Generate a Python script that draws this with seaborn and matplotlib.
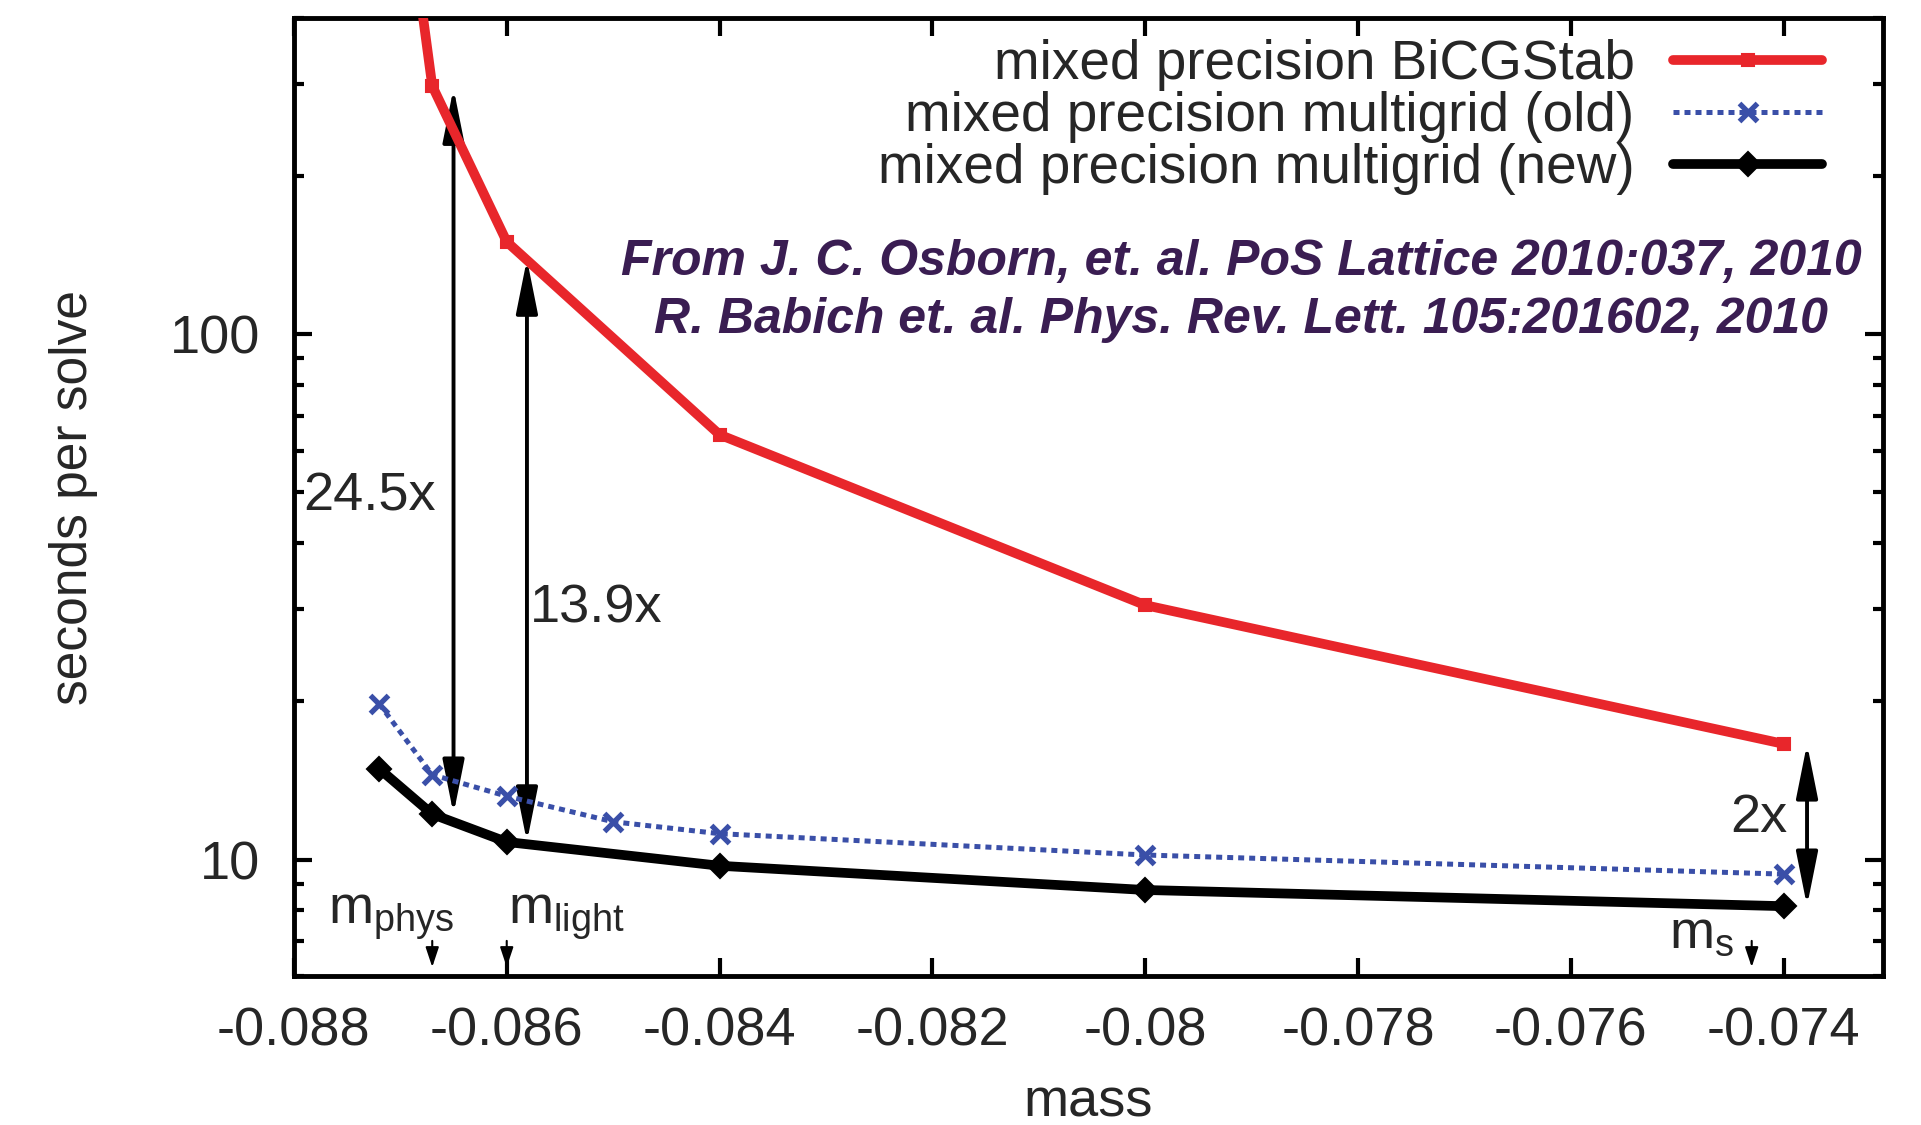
import matplotlib
matplotlib.use("Agg")
import matplotlib.pyplot as plt
import matplotlib.ticker as mticker
import numpy as np
import pandas as pd
import seaborn as sns

# ---------------- data ----------------
mass_bicg = [-0.0872, -0.0867, -0.086, -0.084, -0.080, -0.074]
time_bicg = [1700, 297, 150, 64.4, 30.5, 16.6]

mass_mg_old = [-0.0872, -0.0867, -0.086, -0.085, -0.084, -0.080, -0.074]
time_mg_old = [19.8, 14.5, 13.2, 11.8, 11.2, 10.2, 9.38]

mass_mg_new = [-0.0872, -0.0867, -0.086, -0.084, -0.080, -0.074]
time_mg_new = [14.9, 12.2, 10.8, 9.73, 8.75, 8.15]

series_labels = ["mixed precision BiCGStab",
                 "mixed precision multigrid (old)",
                 "mixed precision multigrid (new)"]

x_ticks = [-0.088, -0.086, -0.084, -0.082, -0.080, -0.078, -0.076, -0.074]
x_tick_labels = ["-0.088", "-0.086", "-0.084", "-0.082", "-0.08", "-0.078", "-0.076", "-0.074"]
y_ticks = [10, 100]
y_tick_labels = ["10", "100"]

speedup_labels = ["24.5x", "13.9x", "2x"]
citation_lines = ["From J. C. Osborn, et. al. PoS Lattice 2010:037, 2010",
                  "R. Babich et. al. Phys. Rev. Lett. 105:201602, 2010"]

# ---------------- style ----------------
sns.set_style("white")
plt.rcParams["font.family"] = ["Liberation Sans", "DejaVu Sans"]
plt.rcParams["axes.unicode_minus"] = False
plt.rcParams["mathtext.default"] = "regular"

FS = 39
RED = "#e8262b"
BLUE = "#3a4fa8"
PURPLE = "#3a1d52"

fig = plt.figure(figsize=(19.21, 11.25), dpi=100)
ax = fig.add_axes([0.153, 0.1324, 0.980 - 0.153, 0.984 - 0.1324])

df_bicg = pd.DataFrame({"mass": mass_bicg, "time": time_bicg})
df_old = pd.DataFrame({"mass": mass_mg_old, "time": time_mg_old})
df_new = pd.DataFrame({"mass": mass_mg_new, "time": time_mg_new})

sns.lineplot(data=df_bicg, x="mass", y="time", ax=ax, color=RED, lw=7,
             marker="s", markersize=8, markeredgewidth=1.5, markeredgecolor=RED,
             markerfacecolor=RED, sort=False, label=series_labels[0], zorder=3)
sns.lineplot(data=df_old, x="mass", y="time", ax=ax, color=BLUE, lw=3.6,
             linestyle=(0, (1.2, 1.0)), marker="x", markersize=13,
             markeredgewidth=3.8, markeredgecolor=BLUE,
             sort=False, label=series_labels[1], zorder=3)
sns.lineplot(data=df_new, x="mass", y="time", ax=ax, color="black", lw=7,
             marker="D", markersize=12, markeredgewidth=1.5,
             markeredgecolor="black", markerfacecolor="black",
             sort=False, label=series_labels[2], zorder=3)

ax.set_yscale("log")
ax.set_xlim(-0.088, -0.07307)
ax.set_ylim(6, 400)

ax.xaxis.set_major_locator(mticker.FixedLocator(x_ticks))
ax.xaxis.set_major_formatter(mticker.FixedFormatter(x_tick_labels))
ax.xaxis.set_minor_locator(mticker.NullLocator())
ax.yaxis.set_major_locator(mticker.FixedLocator(y_ticks))
ax.yaxis.set_major_formatter(mticker.FixedFormatter(y_tick_labels))
ax.yaxis.set_minor_locator(mticker.LogLocator(base=10, subs=np.arange(2, 10)))
ax.yaxis.set_minor_formatter(mticker.NullFormatter())

for s in ax.spines.values():
    s.set_visible(True)
    s.set_linewidth(3.5)
    s.set_color("black")

ax.tick_params(axis="both", which="major", direction="in", length=13, width=3,
               top=True, right=True, left=True, bottom=True,
               labelsize=FS, pad=22, color="black")
ax.tick_params(axis="both", which="minor", direction="in", length=7, width=3,
               top=True, right=True, left=True, bottom=True, color="black")
ax.tick_params(axis="y", which="major", pad=24)

ax.set_xlabel("mass", fontsize=FS, labelpad=15)
ax.set_ylabel("seconds per solve", fontsize=FS * 0.95, labelpad=52)

# legend
h, l = ax.get_legend_handles_labels()
leg = ax.legend(h, l, loc="upper right", bbox_to_anchor=(0.962, 0.978),
                frameon=False, fontsize=39.5, markerfirst=False,
                handlelength=2.72, handletextpad=0.7, labelspacing=0.0,
                borderpad=0, borderaxespad=0, numpoints=1)

# citation text
ax.text(-0.0791, 121, citation_lines[0] + "\n" + citation_lines[1],
        fontsize=36, fontweight="bold", fontstyle="italic", color=PURPLE,
        ha="center", va="center", linespacing=1.33, zorder=4)

# speedup arrows
arrow_kw = dict(arrowstyle="<|-|>,head_length=1.1,head_width=0.22",
                lw=2.8, color="black", shrinkA=0, shrinkB=0,
                mutation_scale=30)
ax.annotate("", xy=(-0.08650, 294), xytext=(-0.08650, 12.2),
            arrowprops=arrow_kw, zorder=2)
ax.annotate("", xy=(-0.08581, 139), xytext=(-0.08581, 10.8),
            arrowprops=arrow_kw, zorder=2)
ax.annotate("", xy=(-0.07378, 16.6), xytext=(-0.07378, 8.15),
            arrowprops=arrow_kw, zorder=2)

ax.text(-0.08791, 49.2, speedup_labels[0], fontsize=FS, ha="left", va="center")
ax.text(-0.08578, 30.1, speedup_labels[1], fontsize=FS, ha="left", va="center")
ax.text(-0.07396, 12.0, speedup_labels[2], fontsize=FS, ha="right", va="center")

# mass markers
ax.text(-0.08768, 7.55, r"$\mathregular{m_{phys}}$", fontsize=FS, ha="left", va="baseline")
ax.text(-0.08599, 7.55, r"$\mathregular{m_{light}}$", fontsize=FS, ha="left", va="baseline")
ax.text(-0.07508, 6.8, r"$\mathregular{m_{s}}$", fontsize=FS, ha="left", va="baseline")

small_kw = dict(arrowstyle="-|>,head_length=0.6,head_width=0.2", lw=1.5,
                color="black", shrinkA=0, shrinkB=0, mutation_scale=20)
for xm in (-0.0867, -0.086, -0.0743):
    ax.annotate("", xy=(xm, 6.24), xytext=(xm, 7.0), arrowprops=small_kw)

fig.savefig("out.png", dpi=100)
